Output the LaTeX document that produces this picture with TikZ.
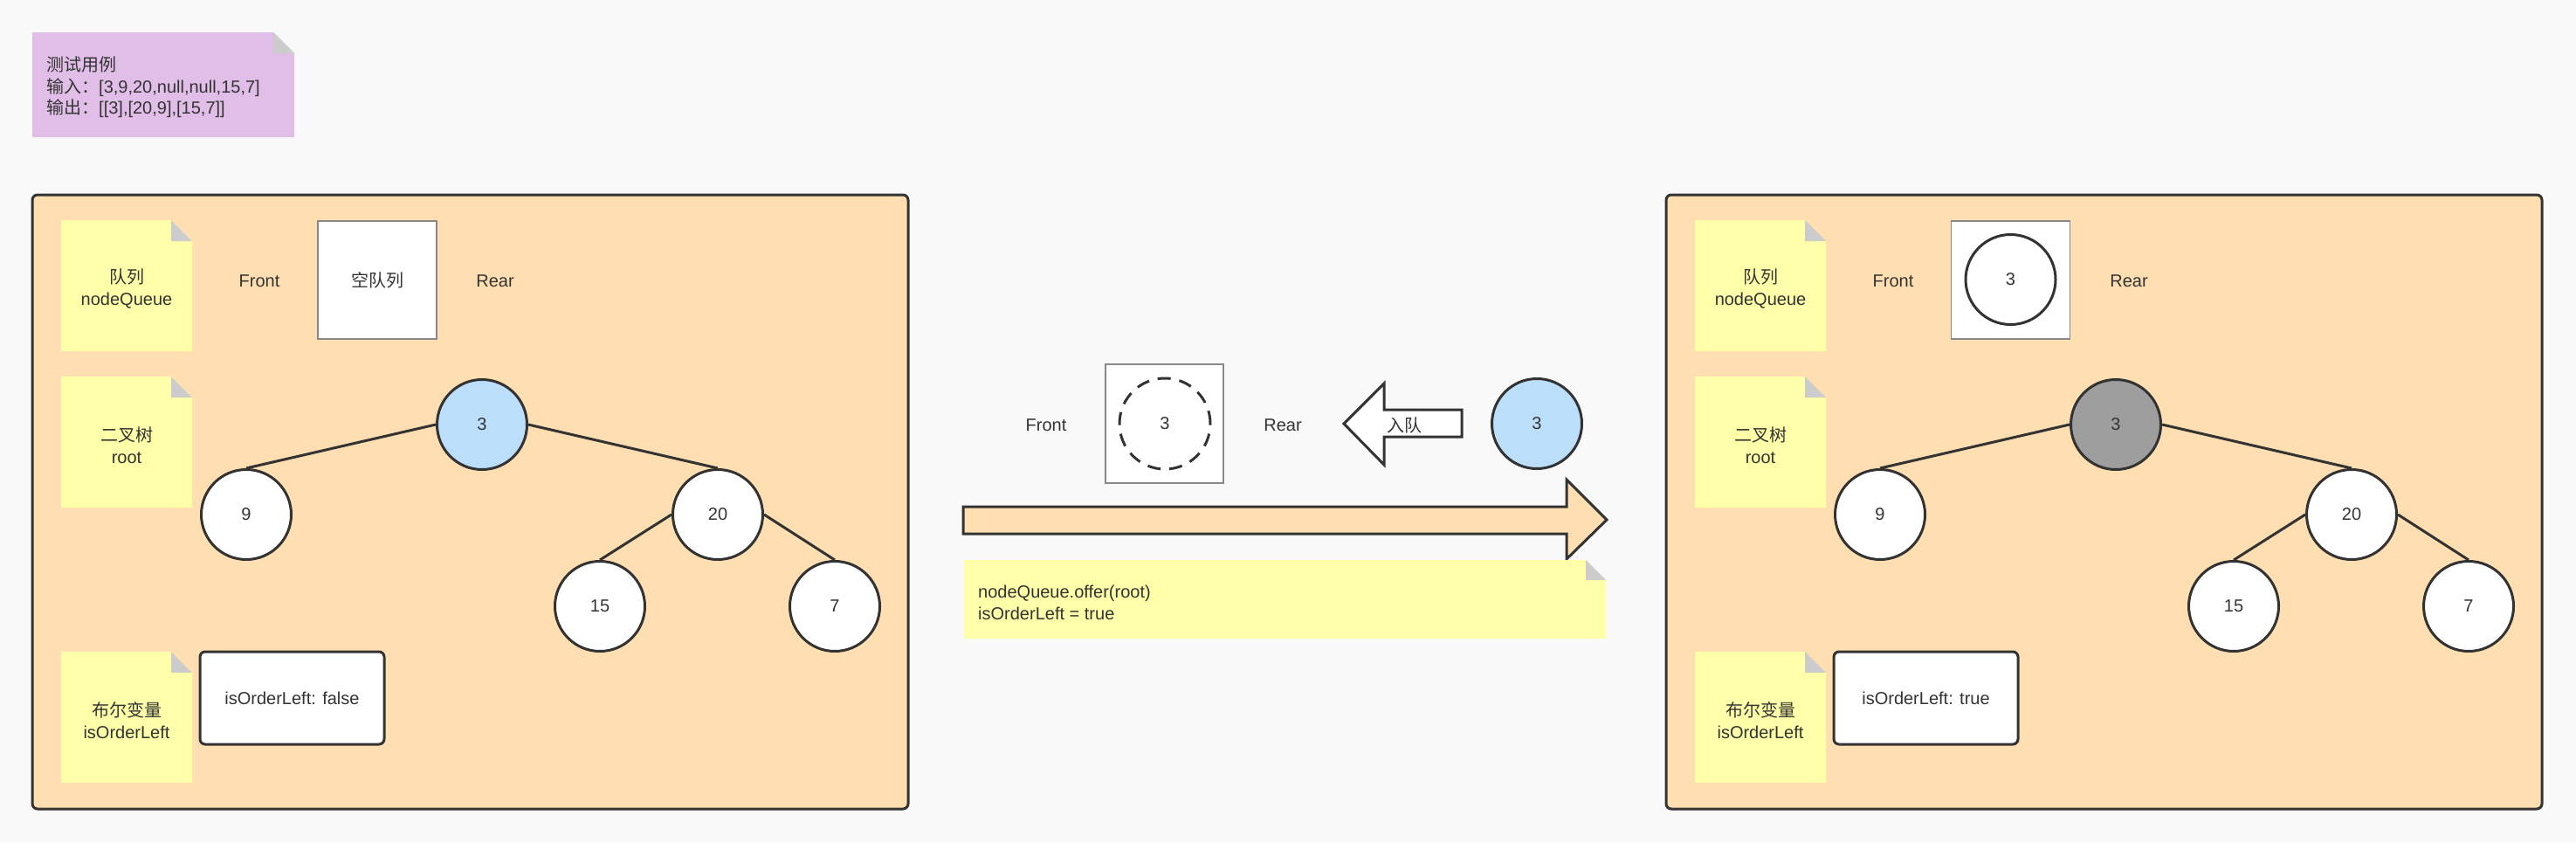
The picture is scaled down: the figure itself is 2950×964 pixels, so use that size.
\documentclass[tikz,border=0pt]{standalone}
\usepackage{fontspec}
\setmainfont{Liberation Sans}
\newfontfamily\cjk{Noto Sans CJK SC}
\definecolor{bg}{HTML}{F9F9F9}
\definecolor{peach}{HTML}{FFDFB1}
\definecolor{stickyc}{HTML}{FFFFA9}
\definecolor{foldc}{HTML}{CCCCCC}
\definecolor{purp}{HTML}{E1BEE7}
\definecolor{lblue}{HTML}{BBDEFB}
\definecolor{gnode}{HTML}{9E9E9E}
\definecolor{ink}{HTML}{333333}
\definecolor{boxline}{HTML}{888888}
\newcommand\stickynote[6]{%
  \fill[#6] (#1,#2) -- ({#3-#5},#2) -- (#3,{#2+#5}) -- (#3,#4) -- (#1,#4) -- cycle;
  \fill[foldc] ({#3-#5},#2) -- ({#3-#5},{#2+#5}) -- (#3,{#2+#5}) -- cycle;
}
\newcommand\paneltree[3]{%
  \node[tnode, fill=#3] (#1n3) at ({552+#2},486) {3};
  \node[tnode] (#1n9) at ({282+#2},589) {9};
  \node[tnode] (#1n20) at ({822+#2},589) {20};
  \node[tnode] (#1n15) at ({687+#2},694) {15};
  \node[tnode] (#1n7) at ({956+#2},694) {7};
  \draw[edgeline] (#1n3.west) -- (#1n9.north);
  \draw[edgeline] (#1n3.east) -- (#1n20.north);
  \draw[edgeline] (#1n20.west) -- (#1n15.north);
  \draw[edgeline] (#1n20.east) -- (#1n7.north);
}
\newcommand\panelbody[2]{%
  \draw[panelbox] ({37+#2},223) rectangle ({1040+#2},926);
  \stickynote{70+#2}{252}{220+#2}{402}{24}{stickyc}
  \node[txt] (#1qlabel) at ({145+#2},330.5) {{\cjk 队列}\\nodeQueue};
  \stickynote{70+#2}{431}{220+#2}{581}{24}{stickyc}
  \node[txt] (#1tlabel) at ({145+#2},509.5) {{\cjk 二叉树}\\root};
  \stickynote{70+#2}{746}{220+#2}{896}{24}{stickyc}
  \node[txt] (#1blabel) at ({145+#2},825) {{\cjk 布尔变量}\\isOrderLeft};
  \node[txt] (#1front) at ({297+#2},322) {Front};
  \node[txt] (#1rear) at ({567+#2},322) {Rear};
}
\begin{document}
\begin{tikzpicture}[x=1pt,y=-1pt,
  txt/.style={font=\fontsize{20}{25}\selectfont, text=ink, align=center, inner sep=0pt},
  tnode/.style={circle, draw=ink, line width=3pt, fill=white, minimum size=103pt, inner sep=0pt,
    font=\fontsize{20}{25}\selectfont, text=ink},
  qbox/.style={draw=boxline, line width=1.5pt, fill=white, inner sep=0pt,
    minimum width=136pt, minimum height=135pt, font=\fontsize{20}{25}\selectfont, text=ink},
  panelbox/.style={draw=ink, line width=3pt, fill=peach, rounded corners=6pt},
  edgeline/.style={draw=ink, line width=3pt},
  blockarrow/.style={draw=ink, line width=3pt, line join=miter}
]
\useasboundingbox (0,0) rectangle (2950,964);
\fill[bg] (0,0) rectangle (2950,964);

% test case note
\stickynote{37}{37}{337}{157}{24}{purp}
\node[txt, anchor=west, align=left, font=\fontsize{20}{24.5}\selectfont] (testcase) at (53,100)
  {{\cjk 测试用例}\\{\cjk 输入：}[3,9,20,null,null,15,7]\\{\cjk 输出：}[[3],[20,9],[15,7]]};

% left panel
\panelbody{L}{0}
\node[qbox] (Lqueue) at (432,320.5) {\cjk 空队列};
\paneltree{L}{0}{lblue}
\node[draw=ink, line width=3pt, fill=white, rounded corners=6pt, minimum width=211pt,
  minimum height=106pt, inner sep=0pt, font=\fontsize{20}{25}\selectfont, text=ink]
  (Lbool) at (334.5,799) {isOrderLeft: false};

% middle
\node[txt] (Mfront) at (1198,487) {Front};
\node[qbox, minimum width=135pt, minimum height=136pt] (Mqueue) at (1333.5,485) {};
\node[circle, draw=ink, line width=3pt, dash pattern=on 15pt off 10pt, minimum size=104pt,
  inner sep=0pt, font=\fontsize{20}{25}\selectfont, text=ink] (Mslot) at (1334,485) {3};
\node[txt] (Mrear) at (1469,487) {Rear};
\draw[blockarrow, fill=white] (1539,485) -- (1585,439) -- (1585,469) -- (1674,469)
  -- (1674,500) -- (1585,500) -- (1585,532) -- cycle;
\node[txt] (enq) at (1608,487) {\cjk 入队};
\node[tnode, fill=lblue] (Mnode) at (1760,485) {3};
\draw[blockarrow, fill=peach] (1103,580) -- (1794,580) -- (1794,549) -- (1840,595)
  -- (1794,640) -- (1794,611) -- (1103,611) -- cycle;
\stickynote{1104}{641}{1839}{731}{23}{stickyc}
\node[txt, anchor=west, align=left] (code) at (1120,689.5)
  {nodeQueue.offer(root)\\isOrderLeft = true};

% right panel
\panelbody{R}{1871}
\node[qbox] (Rqueue) at (2302.5,320.5) {};
\node[tnode] (Rslot) at (2302.5,320) {3};
\paneltree{R}{1871}{gnode}
\node[draw=ink, line width=3pt, fill=white, rounded corners=6pt, minimum width=211pt,
  minimum height=106pt, inner sep=0pt, font=\fontsize{20}{25}\selectfont, text=ink]
  (Rbool) at (2205.5,799) {isOrderLeft: true};
\end{tikzpicture}
\end{document}
